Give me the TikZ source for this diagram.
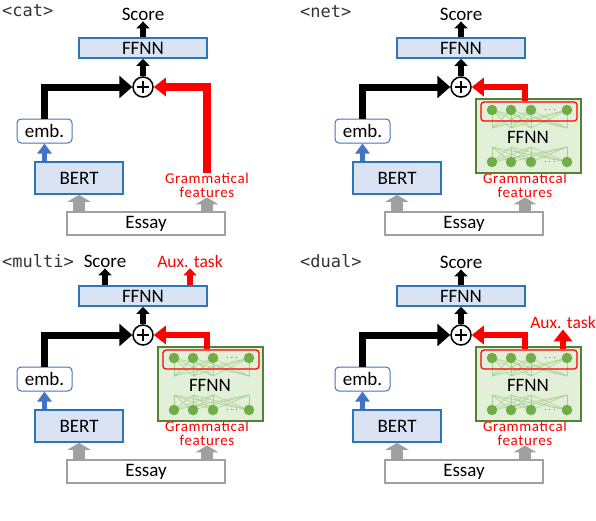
\documentclass[tikz,border=0pt]{standalone}
\usepackage{fontspec}
\setmainfont{Carlito}
\newfontfamily\tagfont{DejaVu Sans Mono}
\newfontfamily\gffont[LetterSpace=4.5]{Carlito}
\usetikzlibrary{arrows.meta}

\definecolor{bertfill}{RGB}{218,227,243}
\definecolor{bertline}{RGB}{46,117,182}
\definecolor{embline}{RGB}{68,114,196}
\definecolor{netfill}{RGB}{226,240,217}
\definecolor{netdraw}{RGB}{84,130,53}
\definecolor{unitfill}{RGB}{112,173,71}
\definecolor{linkcol}{RGB}{169,209,142}
\definecolor{featred}{RGB}{255,0,0}
\definecolor{essaygray}{RGB}{160,160,160}

\tikzset{
  txt/.style={inner sep=1pt, font=\fontsize{19}{19}\selectfont},
  bertbox/.style={txt, draw=bertline, fill=bertfill, line width=1.6pt},
  embbox/.style={txt, draw=embline, fill=white, line width=1pt, rounded corners=4pt,
    minimum width=55pt, minimum height=24pt},
  essaybox/.style={txt, draw=essaygray, fill=white, line width=1.4pt,
    minimum width=158pt, minimum height=23pt},
  gftext/.style={inner sep=0pt, align=center, text=featred, font=\gffont\fontsize{15}{14}\selectfont},
  auxtext/.style={inner sep=1pt, text=featred, font=\fontsize{17.5}{17.5}\selectfont},
  tagtext/.style={inner sep=0pt, anchor=west, text=black!80, font=\tagfont\fontsize{17}{17}\selectfont},
  plus/.style={circle, draw, line width=1.5pt, minimum size=20pt, inner sep=0pt,
    path picture={\draw[line width=1.3pt]
      ([yshift=-4pt]path picture bounding box.north) -- ([yshift=4pt]path picture bounding box.south)
      ([xshift=4pt]path picture bounding box.west) -- ([xshift=-4pt]path picture bounding box.east);}},
  netbox/.style={draw=netdraw, fill=netfill, line width=1.6pt, minimum width=105pt,
    minimum height=74pt, inner sep=0pt},
  unit/.style={circle, fill=unitfill, minimum size=10.5pt, inner sep=0pt},
  netline/.style={draw=linkcol, line width=0.6pt},
  outrow/.style={draw=featred, line width=1.2pt, rounded corners=3pt, minimum width=96pt,
    minimum height=19pt, inner sep=0pt},
  uparrow/.style={line width=6.5pt, -{Triangle[length=7pt,width=13pt]}},
  bigarrow/.style={line width=7pt, line join=miter, -{Triangle[length=13pt,width=22pt]}},
  redarrow/.style={featred, line width=6pt, line join=miter, -{Triangle[length=12pt,width=18pt]}},
  bluearrow/.style={embline, line width=4.5pt, -{Triangle[length=10pt,width=14pt]}},
  grayarrow/.style={essaygray, line width=12pt, -{Triangle[length=7pt,width=23pt]}},
}

% parts shared by all four panels
\newcommand\basepanel[1]{%
  \node[bertbox, minimum width=128pt, minimum height=20pt] (#1ffnn) at (143,48) {FFNN};
  \node[plus] (#1sum) at (143,87) {};
  \node[embbox] (#1emb) at (44.5,131) {emb.};
  \node[bertbox, minimum width=88pt, minimum height=32pt] (#1bert) at (79,178) {BERT};
  \node[essaybox] (#1essay) at (146,223.5) {Essay};
  \node[gftext] (#1gf) at (207,185) {Grammatical\\features};
  \draw[uparrow] (#1sum) -- (#1ffnn);
  \draw[bluearrow] (#1bert.north -| #1emb.south) -- (#1emb.south);
  \draw[bigarrow] (#1emb.north) |- (#1sum.west);
  \draw[grayarrow] (#1essay.north -| #1bert.south) -- (#1bert.south);
  \draw[grayarrow] (#1essay.north -| #1gf.south) -- (#1gf.south);
}

% small network for the grammatical features
\newcommand\gramnet[1]{%
  \node[netbox] (#1net) at (210.5,136) {};
  \foreach \i in {174,193,213,249}
    \foreach \j in {174,193,213,249} {
      \draw[netline] (\i,110) -- (\j,128);
      \draw[netline] (\i,162) -- (\j,147);
    }
  \foreach \i in {174,193,213,249} {
    \node[unit] (#1top\i) at (\i,110) {};
    \node[unit] (#1bot\i) at (\i,162) {};
  }
  \node[inner sep=0pt, text=black!70] (#1dtop) at (232,110) {$\cdots$};
  \node[inner sep=0pt, text=black!70] (#1dbot) at (232,162) {$\cdots$};
  \node[txt] (#1inner) at (210,137) {FFNN};
  \node[outrow] (#1out) at (211,111.5) {};
  \draw[redarrow] ([xshift=-4pt]#1out.north) |- (#1sum.east);
}

\begin{document}
\begin{tikzpicture}[x=1pt,y=1pt,yscale=-1]
\useasboundingbox (0,0) rectangle (596,520);

% panel labels
\node[tagtext] (tagcat) at (2,11) {<cat>};
\node[tagtext] (tagnet) at (300,12) {<net>};
\node[tagtext] (tagmulti) at (2,261) {<multi>};
\node[tagtext] (tagdual) at (300,261) {<dual>};

% <cat>
\begin{scope}
  \basepanel{c}
  \node[txt] (cscore) at (143,14) {Score};
  \draw[uparrow] (cffnn.north) -- (cscore.south);
  \draw[redarrow, line width=8pt] (cgf.north) |- (csum.east);
\end{scope}

% <net>
\begin{scope}[shift={(318,0)}]
  \basepanel{n}
  \gramnet{n}
  \node[txt] (nscore) at (143,14) {Score};
  \draw[uparrow] (nffnn.north) -- (nscore.south);
\end{scope}

% <multi>
\begin{scope}[shift={(0,248)}]
  \basepanel{m}
  \gramnet{m}
  \node[txt] (mscore) at (105,13) {Score};
  \node[auxtext] (maux) at (190,13) {Aux. task};
  \draw[uparrow] (mffnn.north -| mscore.south) -- (mscore.south);
  \draw[uparrow, featred] (mffnn.north -| maux.south) -- (maux.south);
\end{scope}

% <dual>
\begin{scope}[shift={(318,248)}]
  \basepanel{d}
  \gramnet{d}
  \node[txt] (dscore) at (143,14) {Score};
  \node[auxtext] (daux) at (245,74) {Aux. task};
  \draw[uparrow] (dffnn.north) -- (dscore.south);
  \draw[redarrow] (daux.south |- dout.north) -- (daux.south);
\end{scope}

\end{tikzpicture}
\end{document}
